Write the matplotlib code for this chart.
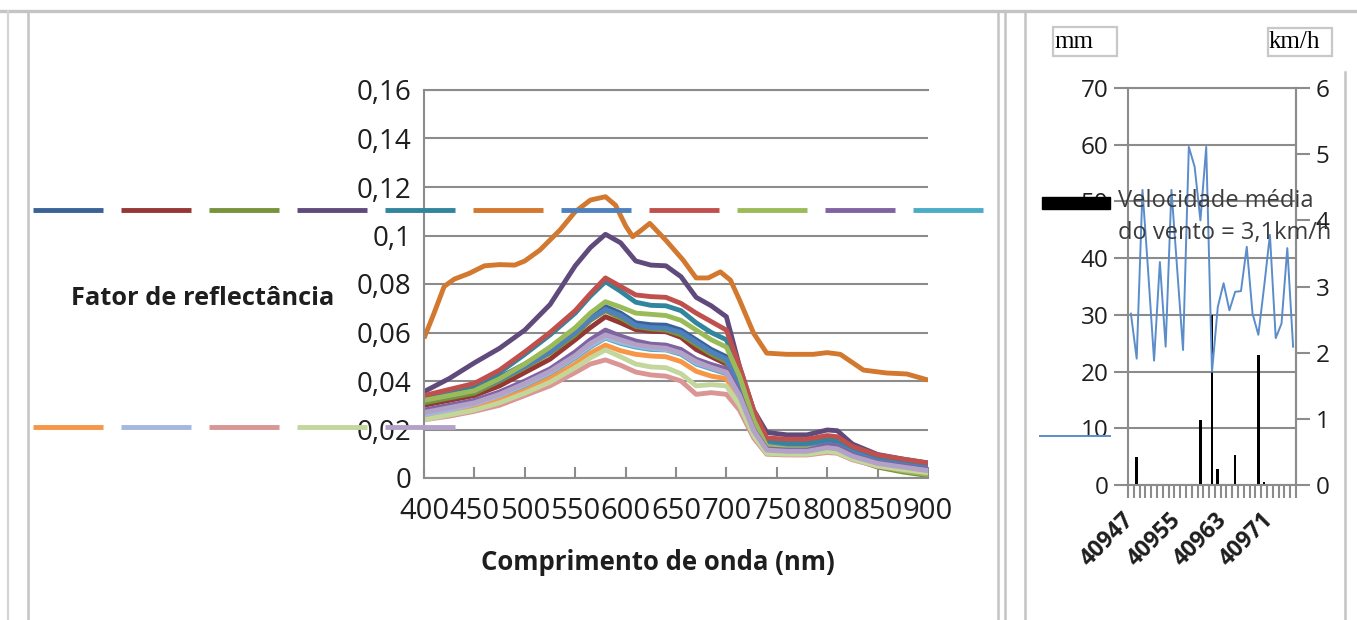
import matplotlib
matplotlib.use('Agg')
import matplotlib.pyplot as plt
from matplotlib.lines import Line2D
from matplotlib.patches import Rectangle
import numpy as np

# ---------------- data: left chart (reflectance spectra) ----------------
wavelength = [400, 425, 450, 475, 500, 525, 550, 565, 580, 595, 610, 625, 640, 655,
              670, 685, 700, 713, 727, 740, 760, 780, 800, 810, 825, 850, 875, 900]

refl_dark_blue = [0.033, 0.035, 0.037, 0.0415, 0.047, 0.053, 0.061, 0.0665, 0.0707, 0.068, 0.064, 0.0632, 0.063, 0.061,
                  0.057, 0.053, 0.050, 0.039, 0.023, 0.014, 0.013, 0.013, 0.0145, 0.014, 0.011, 0.0075, 0.006, 0.0045]
refl_dark_red = [0.030, 0.032, 0.034, 0.038, 0.0435, 0.049, 0.057, 0.062, 0.0665, 0.064, 0.0612, 0.0605, 0.0603, 0.058,
                 0.053, 0.050, 0.047, 0.036, 0.021, 0.0135, 0.0128, 0.0128, 0.015, 0.0145, 0.011, 0.0078, 0.0062, 0.0047]
refl_dark_green = [0.031, 0.033, 0.035, 0.040, 0.0455, 0.0515, 0.059, 0.065, 0.069, 0.066, 0.0625, 0.0615, 0.061, 0.059,
                   0.055, 0.051, 0.048, 0.037, 0.021, 0.012, 0.011, 0.011, 0.012, 0.0115, 0.008, 0.0045, 0.0025, 0.001]
refl_dark_purple = [0.0356, 0.041, 0.0475, 0.0535, 0.061, 0.0715, 0.0875, 0.095, 0.1005, 0.097, 0.0895, 0.0878, 0.0875, 0.083,
                    0.0745, 0.071, 0.0665, 0.046, 0.028, 0.0188, 0.0178, 0.0178, 0.0198, 0.0195, 0.014, 0.0097, 0.0078, 0.0062]
refl_dark_teal = [0.033, 0.0355, 0.038, 0.0435, 0.051, 0.059, 0.068, 0.075, 0.081, 0.077, 0.0725, 0.0712, 0.071, 0.069,
                  0.064, 0.060, 0.057, 0.044, 0.026, 0.015, 0.0145, 0.0145, 0.016, 0.0155, 0.012, 0.0085, 0.007, 0.0055]
refl_blue = [0.032, 0.034, 0.036, 0.0405, 0.046, 0.052, 0.060, 0.0655, 0.0695, 0.067, 0.063, 0.062, 0.0618, 0.060,
             0.056, 0.052, 0.049, 0.038, 0.022, 0.0135, 0.0125, 0.0125, 0.014, 0.0135, 0.0105, 0.007, 0.0055, 0.004]
refl_red = [0.034, 0.0365, 0.039, 0.0445, 0.052, 0.060, 0.069, 0.076, 0.0825, 0.079, 0.0755, 0.0748, 0.0745, 0.072,
            0.068, 0.0645, 0.061, 0.046, 0.028, 0.0165, 0.016, 0.016, 0.0175, 0.017, 0.013, 0.0095, 0.0078, 0.0062]
refl_green = [0.032, 0.034, 0.036, 0.041, 0.047, 0.054, 0.062, 0.068, 0.0727, 0.0705, 0.068, 0.0675, 0.067, 0.065,
              0.061, 0.057, 0.054, 0.042, 0.024, 0.013, 0.012, 0.012, 0.013, 0.0125, 0.009, 0.005, 0.003, 0.0015]
refl_purple = [0.028, 0.030, 0.032, 0.0355, 0.040, 0.045, 0.052, 0.057, 0.061, 0.0585, 0.0565, 0.0552, 0.0548, 0.053,
               0.049, 0.0468, 0.045, 0.035, 0.020, 0.012, 0.0115, 0.0115, 0.0135, 0.013, 0.0095, 0.0065, 0.005, 0.0035]
refl_aqua = [0.025, 0.0275, 0.030, 0.0335, 0.038, 0.043, 0.0495, 0.054, 0.0577, 0.0555, 0.054, 0.053, 0.0528, 0.051,
             0.047, 0.045, 0.043, 0.033, 0.019, 0.011, 0.0105, 0.0105, 0.012, 0.0115, 0.0085, 0.0055, 0.004, 0.0028]
refl_orange = [0.025, 0.027, 0.029, 0.032, 0.036, 0.041, 0.047, 0.0515, 0.0548, 0.0525, 0.051, 0.0503, 0.050, 0.048,
               0.044, 0.042, 0.041, 0.032, 0.0185, 0.0108, 0.0102, 0.0102, 0.0115, 0.011, 0.008, 0.005, 0.0038, 0.0025]
refl_light_blue = [0.026, 0.028, 0.0305, 0.034, 0.0385, 0.0435, 0.050, 0.0545, 0.058, 0.056, 0.0545, 0.0535, 0.053, 0.0515,
                   0.0475, 0.0455, 0.0435, 0.0335, 0.0195, 0.0112, 0.0107, 0.0107, 0.0122, 0.0117, 0.0087, 0.0057, 0.0042, 0.003]
refl_pink = [0.024, 0.0255, 0.0275, 0.030, 0.034, 0.038, 0.0435, 0.047, 0.0487, 0.0465, 0.0437, 0.0425, 0.042, 0.040,
             0.0345, 0.0352, 0.0345, 0.028, 0.0165, 0.0098, 0.0095, 0.0095, 0.0105, 0.0102, 0.0075, 0.0048, 0.0035, 0.0022]
refl_light_green = [0.024, 0.026, 0.028, 0.031, 0.035, 0.0395, 0.0455, 0.0495, 0.0528, 0.050, 0.047, 0.0458, 0.0455, 0.043,
                    0.038, 0.0385, 0.038, 0.030, 0.0175, 0.0102, 0.0098, 0.0098, 0.011, 0.0105, 0.0078, 0.005, 0.0035, 0.0022]
refl_lavender = [0.027, 0.029, 0.031, 0.0345, 0.039, 0.044, 0.0505, 0.0555, 0.059, 0.057, 0.055, 0.054, 0.0535, 0.0515,
                 0.048, 0.0455, 0.0435, 0.034, 0.0195, 0.0115, 0.011, 0.011, 0.0125, 0.012, 0.009, 0.006, 0.0045, 0.003]

# the high (dark orange) spectrum was read on its own wavelength grid
dark_orange_wl = [400, 410, 420, 430, 445, 460, 475, 490, 500, 515, 535, 550, 565, 580, 590, 600, 607, 615,
                  624, 640, 657, 670, 682, 694, 704, 713, 727, 740, 760, 786, 800, 813, 836, 859, 879, 900]
refl_dark_orange = [0.0576, 0.068, 0.079, 0.082, 0.0844, 0.0875, 0.088, 0.0878, 0.0895, 0.094, 0.1023, 0.1098,
                    0.1146, 0.116, 0.1125, 0.104, 0.0995, 0.102, 0.105, 0.098, 0.0899, 0.0825, 0.0825, 0.085,
                    0.0816, 0.0734, 0.0597, 0.0515, 0.051, 0.051, 0.0517, 0.051, 0.0445, 0.0433, 0.0429, 0.0404]

left_yticks = [0, 0.02, 0.04, 0.06, 0.08, 0.10, 0.12, 0.14, 0.16]
left_ytick_labels = ['0', '0,02', '0,04', '0,06', '0,08', '0,1', '0,12', '0,14', '0,16']
left_xticks = [400, 450, 500, 550, 600, 650, 700, 750, 800, 850, 900]
left_xlabel = 'Comprimento de onda (nm)'
left_ylabel = 'Fator de reflectância'

# ---------------- data: right chart (rain + wind) ----------------
dates = [40947, 40948, 40949, 40950, 40951, 40952, 40953, 40954, 40955, 40956,
         40957, 40958, 40959, 40960, 40961, 40962, 40963, 40964, 40965, 40966,
         40967, 40968, 40969, 40970, 40971, 40972, 40973, 40974, 40975]
precip_mm = [0, 5.0, 0, 0, 0, 0, 0, 0, 0, 0,
             0, 0, 11.5, 0, 30.0, 2.8, 0, 0, 5.3, 0,
             0, 0, 22.9, 0.6, 0, 0, 0, 0, 0]
wind_kmh = [2.59, 1.91, 4.46, 3.2, 1.88, 3.37, 2.09, 4.46, 3.25, 2.04,
            5.11, 4.81, 4.0, 5.11, 1.71, 2.69, 3.05, 2.64, 2.92, 2.93,
            3.6, 2.59, 2.27, 3.0, 3.78, 2.22, 2.44, 3.58, 2.09]
date_label_every = 8
mm_ticks = [0, 10, 20, 30, 40, 50, 60, 70]
kmh_ticks = [0, 1, 2, 3, 4, 5, 6]
wind_legend_label = 'Velocidade média\ndo vento = 3,1km/h'

# ---------------- figure ----------------
W, H, DPI = 1357, 620, 100
plt.rcParams['font.family'] = ['Open Sans', 'DejaVu Sans']
fig = plt.figure(figsize=(W / DPI, H / DPI), dpi=DPI)
fig.patch.set_facecolor('white')


def px_axes(x0, y0, x1, y1):
    return fig.add_axes([x0 / W, 1 - y1 / H, (x1 - x0) / W, (y1 - y0) / H])


def fig_line(x0, y0, x1, y1, color='#C8C8C8', lw=1.6):
    fig.add_artist(Line2D([x0 / W, x1 / W], [1 - y0 / H, 1 - y1 / H],
                          transform=fig.transFigure, color=color, lw=lw))


GRID = '#8C8C8C'
TXT = '#1E1E1E'

# window frame lines
fig_line(0, 11, W, 11, '#C4C4C4', 2.4)
fig_line(8, 11, 8, H, '#D4D4D4', 1.6)
fig_line(28, 13, 28, H, '#C4C4C4', 1.8)
fig_line(998, 11, 998, H, '#C4C4C4', 1.8)
fig_line(1005, 11, 1005, H, '#C4C4C4', 1.8)
fig_line(1025, 13, 1025, H, '#C4C4C4', 1.8)
fig_line(1345, 72, 1345, H, '#C4C4C4', 1.8)

# ---------------- left chart ----------------
ax = px_axes(424, 90, 928, 478)
series = [
    (wavelength, refl_dark_blue, '#3A6297'),
    (wavelength, refl_dark_red, '#953735'),
    (wavelength, refl_dark_green, '#77933C'),
    (wavelength, refl_dark_purple, '#604A7B'),
    (wavelength, refl_dark_teal, '#31859C'),
    (dark_orange_wl, refl_dark_orange, '#D2782F'),
    (wavelength, refl_blue, '#4F81BD'),
    (wavelength, refl_red, '#C0504D'),
    (wavelength, refl_green, '#9BBB59'),
    (wavelength, refl_purple, '#8064A2'),
    (wavelength, refl_aqua, '#4BACC6'),
    (wavelength, refl_orange, '#F79646'),
    (wavelength, refl_light_blue, '#A3B8DC'),
    (wavelength, refl_pink, '#D99694'),
    (wavelength, refl_light_green, '#C3D69B'),
    (wavelength, refl_lavender, '#B3A2C7'),
]
handles = []
for xs, ys, c in series:
    ln, = ax.plot(xs, ys, color=c, lw=3.5, solid_joinstyle='round', solid_capstyle='butt')
    handles.append(ln)

ax.set_xlim(400, 900)
ax.set_ylim(0, 0.16)
ax.set_yticks(left_yticks)
ax.set_yticklabels(left_ytick_labels)
ax.set_xticks(left_xticks)
ax.set_xticklabels([str(v) for v in left_xticks])
ax.grid(axis='y', color=GRID, lw=1.5)
ax.set_axisbelow(True)
for s in ['left', 'bottom', 'top']:
    ax.spines[s].set_color(GRID)
    ax.spines[s].set_linewidth(1.5)
ax.spines['right'].set_visible(False)
ax.tick_params(axis='x', direction='in', length=8, width=1.5, color=GRID,
               labelsize=21, pad=14, labelcolor=TXT)
ax.tick_params(axis='y', length=0, labelsize=20, pad=9, labelcolor=TXT)

fig.text(203 / W, 1 - 298 / H, left_ylabel, ha='center', va='center',
         fontsize=18.3, weight='bold', color=TXT)
fig.text(658 / W, 1 - 563 / H, left_xlabel, ha='center', va='center',
         fontsize=18.5, weight='bold', color=TXT)

# legend samples (labels absent in the original)
fs_leg = 10
fs_px = fs_leg * DPI / 72
leg_kw = dict(frameon=False, borderpad=0, borderaxespad=0, handletextpad=0,
              columnspacing=18 / fs_px, handlelength=70 / fs_px, fontsize=fs_leg,
              loc='center left', bbox_transform=fig.transFigure)
leg1 = fig.legend(handles[:11], [''] * 11, ncol=11, bbox_to_anchor=(33 / W, 1 - 211 / H), **leg_kw)
leg2 = fig.legend(handles[11:], [''] * 5, ncol=5, bbox_to_anchor=(33 / W, 1 - 428 / H), **leg_kw)

# ---------------- right chart ----------------
axr = px_axes(1128, 88, 1296, 485)
cats = np.arange(len(dates))
bars = axr.bar(cats, precip_mm, width=0.45, color='black')
axr.set_xlim(-0.5, len(dates) - 0.5)
axr.set_ylim(0, 70)
axr.set_yticks(mm_ticks)
axr.grid(axis='y', color=GRID, lw=1.5)
axr.set_axisbelow(True)
for s in ['left', 'bottom', 'top', 'right']:
    axr.spines[s].set_color(GRID)
    axr.spines[s].set_linewidth(1.5)
axr.set_xticks(np.arange(len(dates) + 1) - 0.5)
axr.set_xticklabels([])
lab_idx = list(range(0, len(dates), date_label_every))
axr.set_xticks(lab_idx, minor=True)
axr.set_xticklabels([str(dates[i]) for i in lab_idx], minor=True, rotation=45,
                    ha='right', va='center', rotation_mode='anchor',
                    fontsize=16.5, weight='bold', color=TXT)
axr.tick_params(axis='x', which='major', direction='out', length=9, width=1.5, color=GRID)
axr.tick_params(axis='x', which='minor', length=0, pad=23)
axr.tick_params(axis='y', direction='out', length=10, width=1.5, color=GRID,
                labelsize=17.5, pad=4, labelcolor=TXT)

ax2 = axr.twinx()
wind_line, = ax2.plot(cats, wind_kmh, color='#5B8DCB', lw=1.4)
ax2.set_ylim(0, 6)
ax2.set_yticks(kmh_ticks)
for s in ['left', 'bottom', 'top']:
    ax2.spines[s].set_visible(False)
ax2.spines['right'].set_color(GRID)
ax2.spines['right'].set_linewidth(1.5)
ax2.tick_params(axis='y', direction='out', length=10, width=1.5, color=GRID,
                labelsize=17.5, pad=4, labelcolor=TXT)

# unit boxes
for (x0, y0, x1, y1, t) in [(1053, 27, 1117, 56, 'mm'), (1268, 28, 1332, 56, 'km/h')]:
    fig.add_artist(Rectangle((x0 / W, 1 - y1 / H), (x1 - x0) / W, (y1 - y0) / H,
                             transform=fig.transFigure, fill=False, edgecolor='#C8C8C8', lw=1.6))
    fig.text((x0 + 1) / W, 1 - 42 / H, t, ha='left', va='center', fontsize=18,
             family='Liberation Serif', color='black')

# right legend: black key of the rain bars, blue key of the wind line
fig.legend([Rectangle((0, 0), 1, 1, facecolor='black', edgecolor='black')], [''],
           loc='center left', bbox_to_anchor=(1042 / W, 1 - 204 / H), bbox_transform=fig.transFigure,
           frameon=False, borderpad=0, borderaxespad=0, fontsize=10,
           handlelength=68 / fs_px, handleheight=13 / fs_px, handletextpad=0)
fig.text(1118 / W, 1 - 189 / H, wind_legend_label, ha='left', va='top', fontsize=17,
         color='#3C3C3C', linespacing=1.45)
fig.legend([wind_line], [''], loc='center left', bbox_to_anchor=(1040 / W, 1 - 437 / H),
           bbox_transform=fig.transFigure, frameon=False, borderpad=0, borderaxespad=0,
           fontsize=10, handlelength=70 / fs_px, handletextpad=0)

fig.savefig('out.png', dpi=DPI, facecolor='white')
